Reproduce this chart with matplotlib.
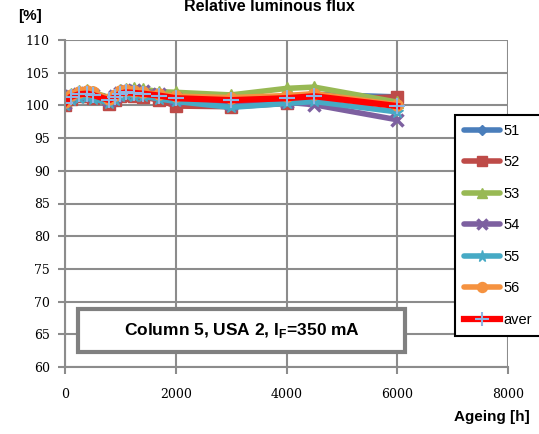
import matplotlib
matplotlib.use("Agg")
import matplotlib.pyplot as plt
from matplotlib.patches import Rectangle

hours = [0, 100, 250, 400, 500, 800, 900, 1000, 1100, 1250, 1400, 1700, 2000, 3000, 4000, 4500, 6000]
s51 = [100.5, 101.5, 101.9, 102.0, 101.8, 101.0, 101.6, 102.1, 102.2, 102.1, 102.0, 101.7, 101.3, 101.0, 101.4, 101.7, 101.3]
s52 = [100.0, 101.0, 101.4, 101.5, 101.2, 100.2, 100.9, 101.5, 101.6, 101.5, 101.3, 100.8, 99.9, 99.8, 100.3, 100.9, 101.3]
s53 = [100.6, 101.8, 102.2, 102.3, 102.0, 101.2, 101.8, 102.4, 102.5, 102.6, 102.5, 102.1, 102.0, 101.6, 102.6, 102.8, 100.5]
s54 = [100.4, 101.4, 101.8, 101.9, 101.6, 100.8, 101.4, 101.9, 102.2, 102.3, 102.2, 101.8, 101.0, 100.2, 100.5, 100.1, 97.8]
s55 = [100.1, 100.9, 101.2, 101.3, 101.0, 100.4, 100.9, 101.4, 101.6, 101.5, 101.4, 101.0, 100.6, 99.7, 100.3, 100.6, 99.0]
s56 = [100.5, 101.6, 102.0, 102.2, 102.0, 101.0, 101.6, 102.2, 102.3, 102.2, 102.0, 101.7, 101.4, 101.2, 101.5, 101.8, 100.1]
aver = [100.3, 101.3, 101.7, 101.8, 101.6, 100.8, 101.3, 101.8, 102.0, 101.9, 101.8, 101.5, 101.1, 100.8, 101.1, 101.4, 99.9]

series_labels = ["51", "52", "53", "54", "55", "56", "aver"]
x_ticks = [0, 2000, 4000, 6000, 8000]
y_ticks = [60, 65, 70, 75, 80, 85, 90, 95, 100, 105, 110]

fig = plt.figure(figsize=(5.39, 4.34), dpi=100)
ax = fig.add_axes([65/539, 1-367/434, (508-65)/539, (367-40)/434])

styles = [
    dict(color="#4A7EBB", marker="D", ms=6),
    dict(color="#BE4B48", marker="s", ms=8),
    dict(color="#98B954", marker="^", ms=8),
    dict(color="#7D60A0", marker="x", ms=8, mew=2.5),
    dict(color="#46AAC5", marker="*", ms=9),
    dict(color="#F59240", marker="o", ms=8),
]
data = [s51, s52, s53, s54, s55, s56]
handles = []
for vals, lab, st in zip(data, series_labels[:6], styles):
    h, = ax.plot(hours, vals, lw=4, label=lab, solid_capstyle="round",
                 **st, markeredgecolor=st["color"])
    handles.append(h)
h, = ax.plot(hours, aver, color="#FF0000", lw=4.5, marker="+", ms=11, mew=1.5,
             markeredgecolor="#8EB4E3", label="aver")
handles.append(h)

ax.set_xlim(0, 8000)
ax.set_ylim(60, 110)
ax.set_xticks(x_ticks)
ax.set_yticks(y_ticks)
ax.grid(True, color="#8C8C8C", lw=1.5)
ax.set_axisbelow(True)
for s in ["top", "right"]:
    ax.spines[s].set_visible(False)
for s in ["left", "bottom"]:
    ax.spines[s].set_color("#8C8C8C")
    ax.spines[s].set_linewidth(1.5)
ax.tick_params(length=5, width=1.5, color="#8C8C8C")
for lbl in ax.get_xticklabels() + ax.get_yticklabels():
    lbl.set_family("DejaVu Serif")
    lbl.set_fontsize(9)
ax.tick_params(axis="x", pad=10)
ax.tick_params(axis="y", pad=6)

fig.text(0.5, 0.985, "Relative luminous flux", ha="center", va="center",
         fontsize=11.5, fontweight="bold", family="Liberation Sans")
fig.text(30/539, 1-16/434, "[%]", ha="center", va="center",
         fontsize=11, fontweight="bold", family="Liberation Sans")
fig.text(530/539, 1-417/434, "Ageing [h]", ha="right", va="center",
         fontsize=11, fontweight="bold", family="Liberation Sans")

fig.patches.append(Rectangle((78/539, 1-352/434), (405-78)/539, (352-309)/434,
                             transform=fig.transFigure, facecolor="white",
                             edgecolor="#808080", lw=3, zorder=5))
fig.text(242/539, 1-331/434, r"Column 5, USA 2, I$_\mathregular{F}$=350 mA",
         ha="center", va="center", fontsize=12.5, fontweight="bold",
         family="Liberation Sans", zorder=6)

leg = fig.legend(handles=handles, labels=series_labels, loc="upper left",
                 bbox_to_anchor=(455/539, 1-115/434), frameon=True, fancybox=False,
                 edgecolor="black", framealpha=1, prop=dict(family="Liberation Sans", size=10.5),
                 handlelength=2.5, labelspacing=1.2, borderpad=0.6, handletextpad=0.25,
                 borderaxespad=0, markerscale=0.9)
leg.get_frame().set_linewidth(1.5)

fig.savefig("out.png", dpi=100)
